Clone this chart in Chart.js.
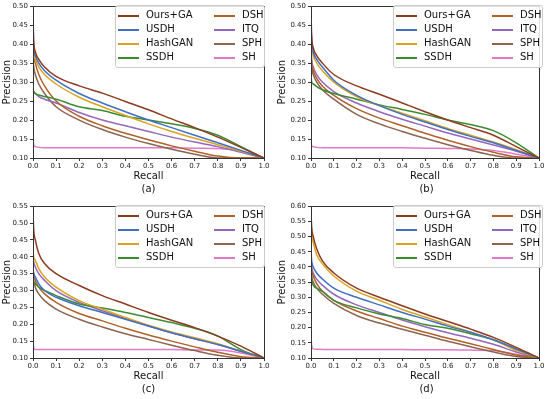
<!DOCTYPE html>
<html>
<head>
<meta charset="utf-8">
<script src="https://cdn.jsdelivr.net/npm/chart.js@4"></script>
<style>
  body { margin: 0; background: #fff; font-family: "DejaVu Sans", sans-serif; }
  .panel { position: absolute; width: 275px; height: 200px; }
  .panel canvas { position: absolute; left: 0; top: 0; }
  .caption { position: absolute; left: 0; width: 100%; top: 183px; font-size: 10px; color: #111; }
  .legend { position: absolute; top: 5px; width: 148px; height: 61px; border: 1px solid #ccc; border-radius: 3px; background: rgba(255,255,255,0.85); }
  .item { position: absolute; height: 14px; font-size: 10px; color: #111; white-space: nowrap; }
  .item span.swatch { position: absolute; left: 0; top: 6px; width: 21px; height: 1.5px; }
  .item span.label { position: absolute; left: 28px; top: 0; line-height: 12px; }
</style>
</head>
<body>
<div id="root"></div>
<script>
const recall = [0, 0.003, 0.01, 0.025, 0.05, 0.1, 0.2, 0.3, 0.4, 0.5, 0.6, 0.7, 0.8, 0.9, 1.0];
const methods = ['Ours+GA', 'USDH', 'HashGAN', 'SSDH', 'DSH', 'ITQ', 'SPH', 'SH'];
const colors = ['#8c3b1e', '#3f6fc4', '#d9a520', '#3a8c2f', '#b0602a', '#9467bd', '#8c6450', '#e07ac8'];
const xTicks = [0, 0.1, 0.2, 0.3, 0.4, 0.5, 0.6, 0.7, 0.8, 0.9, 1.0];

// precision per method, same order as methods
const precA = [
    [0.47, 0.41, 0.38, 0.36, 0.34, 0.315, 0.29, 0.271, 0.249, 0.227, 0.203, 0.18, 0.155, 0.128, 0.10],
    [0.43, 0.39, 0.37, 0.35, 0.33, 0.305, 0.27, 0.245, 0.222, 0.20, 0.18, 0.16, 0.14, 0.12, 0.10],
    [0.40, 0.375, 0.36, 0.34, 0.32, 0.295, 0.26, 0.235, 0.212, 0.19, 0.17, 0.152, 0.135, 0.118, 0.10],
    [0.28, 0.275, 0.27, 0.266, 0.262, 0.255, 0.235, 0.225, 0.21, 0.20, 0.19, 0.178, 0.16, 0.13, 0.10],
    [0.40, 0.37, 0.35, 0.32, 0.29, 0.25, 0.21, 0.185, 0.165, 0.148, 0.132, 0.118, 0.105, 0.10, 0.10],
    [0.28, 0.275, 0.27, 0.262, 0.255, 0.245, 0.22, 0.20, 0.185, 0.17, 0.155, 0.142, 0.13, 0.115, 0.10],
    [0.36, 0.34, 0.32, 0.295, 0.27, 0.235, 0.20, 0.175, 0.155, 0.138, 0.123, 0.11, 0.10, 0.10, 0.10],
    [0.16, 0.135, 0.13, 0.128, 0.127, 0.127, 0.127, 0.127, 0.127, 0.127, 0.127, 0.126, 0.125, 0.118, 0.10]
];
const precB = [
    [0.48, 0.42, 0.39, 0.37, 0.35, 0.32, 0.29, 0.268, 0.245, 0.222, 0.20, 0.18, 0.16, 0.13, 0.10],
    [0.45, 0.41, 0.38, 0.36, 0.34, 0.305, 0.265, 0.238, 0.215, 0.195, 0.175, 0.157, 0.14, 0.12, 0.10],
    [0.42, 0.39, 0.37, 0.35, 0.33, 0.30, 0.262, 0.238, 0.218, 0.198, 0.178, 0.16, 0.142, 0.122, 0.10],
    [0.32, 0.30, 0.295, 0.288, 0.28, 0.27, 0.255, 0.24, 0.228, 0.215, 0.20, 0.188, 0.172, 0.14, 0.10],
    [0.38, 0.35, 0.33, 0.31, 0.29, 0.265, 0.23, 0.205, 0.185, 0.165, 0.147, 0.13, 0.115, 0.103, 0.10],
    [0.40, 0.36, 0.34, 0.32, 0.30, 0.275, 0.245, 0.222, 0.202, 0.184, 0.166, 0.15, 0.134, 0.118, 0.10],
    [0.37, 0.34, 0.32, 0.30, 0.28, 0.255, 0.215, 0.19, 0.17, 0.152, 0.135, 0.12, 0.107, 0.10, 0.10],
    [0.14, 0.132, 0.13, 0.128, 0.127, 0.127, 0.127, 0.127, 0.127, 0.126, 0.125, 0.124, 0.12, 0.11, 0.10]
];
const precC = [
    [0.53, 0.48, 0.45, 0.41, 0.38, 0.35, 0.315, 0.285, 0.26, 0.235, 0.212, 0.19, 0.165, 0.135, 0.10],
    [0.36, 0.35, 0.34, 0.32, 0.30, 0.28, 0.255, 0.235, 0.215, 0.195, 0.175, 0.157, 0.14, 0.12, 0.10],
    [0.42, 0.40, 0.39, 0.365, 0.34, 0.31, 0.27, 0.245, 0.22, 0.197, 0.177, 0.16, 0.142, 0.12, 0.10],
    [0.33, 0.325, 0.32, 0.31, 0.30, 0.285, 0.26, 0.248, 0.235, 0.22, 0.205, 0.188, 0.165, 0.125, 0.10],
    [0.37, 0.35, 0.33, 0.31, 0.29, 0.265, 0.232, 0.21, 0.188, 0.168, 0.15, 0.133, 0.117, 0.104, 0.10],
    [0.40, 0.385, 0.37, 0.35, 0.33, 0.30, 0.265, 0.24, 0.217, 0.195, 0.175, 0.157, 0.14, 0.12, 0.10],
    [0.35, 0.33, 0.31, 0.29, 0.27, 0.245, 0.215, 0.192, 0.172, 0.155, 0.138, 0.122, 0.108, 0.10, 0.10],
    [0.15, 0.13, 0.125, 0.125, 0.125, 0.125, 0.125, 0.125, 0.125, 0.125, 0.125, 0.124, 0.124, 0.115, 0.10]
];
const precD = [
    [0.58, 0.53, 0.50, 0.46, 0.42, 0.38, 0.33, 0.30, 0.272, 0.245, 0.22, 0.195, 0.168, 0.135, 0.10],
    [0.45, 0.42, 0.40, 0.38, 0.36, 0.33, 0.30, 0.275, 0.25, 0.228, 0.205, 0.185, 0.16, 0.13, 0.10],
    [0.56, 0.51, 0.48, 0.44, 0.41, 0.37, 0.32, 0.29, 0.26, 0.235, 0.21, 0.185, 0.16, 0.125, 0.10],
    [0.40, 0.36, 0.34, 0.33, 0.32, 0.29, 0.265, 0.245, 0.23, 0.21, 0.198, 0.18, 0.16, 0.128, 0.10],
    [0.42, 0.39, 0.37, 0.345, 0.32, 0.29, 0.255, 0.23, 0.205, 0.185, 0.165, 0.147, 0.128, 0.11, 0.10],
    [0.43, 0.40, 0.38, 0.36, 0.34, 0.31, 0.275, 0.25, 0.225, 0.203, 0.183, 0.165, 0.145, 0.12, 0.10],
    [0.40, 0.37, 0.35, 0.33, 0.31, 0.28, 0.24, 0.215, 0.195, 0.175, 0.155, 0.137, 0.12, 0.105, 0.10],
    [0.17, 0.14, 0.13, 0.129, 0.128, 0.128, 0.128, 0.128, 0.128, 0.127, 0.127, 0.126, 0.125, 0.112, 0.10]
];

const panels = [
    { id: 'a', prec: precA, yMax: 0.50, left: 0, top: 0, axisW: 33 },
    { id: 'b', prec: precB, yMax: 0.50, left: 275, top: 0, axisW: 36 },
    { id: 'c', prec: precC, yMax: 0.55, left: 0, top: 200, axisW: 33 },
    { id: 'd', prec: precD, yMax: 0.60, left: 275, top: 200, axisW: 36 }
];

// full frame round the plot area, like matplotlib
const framePlugin = {
    id: 'frame',
    afterDatasetsDraw(chart) {
        const { ctx, chartArea: a } = chart;
        ctx.save();
        ctx.strokeStyle = '#333';
        ctx.lineWidth = 1;
        ctx.strokeRect(Math.round(a.left) + 0.5, Math.round(a.top) + 0.5,
            Math.round(a.right - a.left), Math.round(a.bottom - a.top));
        ctx.restore();
    }
};

function buildLegend(box) {
    methods.forEach((name, i) => {
        const item = document.createElement('div');
        item.className = 'item';
        item.style.left = (i < 4 ? 2 : 98) + 'px';
        item.style.top = (3 + (i % 4) * 14) + 'px';
        item.innerHTML = `<span class="swatch" style="background:${colors[i]}"></span><span class="label">${name}</span>`;
        box.appendChild(item);
    });
}

const root = document.getElementById('root');
panels.forEach(p => {
    const div = document.createElement('div');
    div.className = 'panel';
    div.style.left = p.left + 'px';
    div.style.top = p.top + 'px';
    const canvas = document.createElement('canvas');
    canvas.width = 275;
    canvas.height = 200;
    div.appendChild(canvas);

    const legend = document.createElement('div');
    legend.className = 'legend';
    legend.style.left = (p.axisW + 82) + 'px';
    buildLegend(legend);
    div.appendChild(legend);

    const cap = document.createElement('div');
    cap.className = 'caption';
    cap.style.left = p.axisW + 'px';
    cap.style.width = '231px';
    cap.style.textAlign = 'center';
    cap.textContent = '(' + p.id + ')';
    div.appendChild(cap);
    root.appendChild(div);

    new Chart(canvas.getContext('2d'), {
        type: 'line',
        data: {
            datasets: methods.map((m, i) => ({
                label: m,
                data: recall.map((r, k) => ({ x: r, y: p.prec[i][k] })),
                borderColor: colors[i],
                borderWidth: 1.5,
                pointRadius: 0,
                fill: false,
                cubicInterpolationMode: 'monotone'
            }))
        },
        options: {
            responsive: false,
            animation: false,
            layout: { padding: { top: 6, right: 11, bottom: 0, left: 0 } },
            plugins: { legend: { display: false }, tooltip: { enabled: false } },
            scales: {
                x: {
                    type: 'linear', min: 0, max: 1,
                    afterBuildTicks: s => { s.ticks = xTicks.map(v => ({ value: v })); },
                    ticks: { callback: v => v.toFixed(1), font: { family: 'DejaVu Sans', size: 7 }, color: '#222', padding: 1, maxRotation: 0, autoSkip: false },
                    grid: { drawOnChartArea: false, tickLength: 3, color: '#333' },
                    border: { color: '#333' },
                    title: { display: true, text: 'Recall', font: { family: 'DejaVu Sans', size: 10 }, color: '#111', padding: { top: 2, bottom: 18 } },
                    afterFit: s => { s.height = 42; }
                },
                y: {
                    min: 0.1, max: p.yMax,
                    ticks: { stepSize: 0.05, callback: v => v.toFixed(2), font: { family: 'DejaVu Sans', size: 7 }, color: '#222', padding: 2 },
                    grid: { drawOnChartArea: false, tickLength: 3, color: '#333' },
                    border: { color: '#333' },
                    title: { display: true, text: 'Precision', font: { family: 'DejaVu Sans', size: 10 }, color: '#111', padding: { top: 1, bottom: 0 } },
                    afterFit: s => { s.width = p.axisW; }
                }
            }
        },
        plugins: [framePlugin]
    });
});
</script>
</body>
</html>
